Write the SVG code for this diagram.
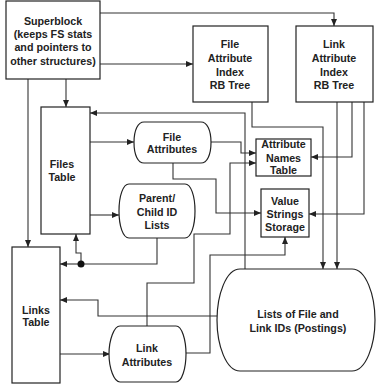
<svg xmlns="http://www.w3.org/2000/svg" width="376" height="385" viewBox="0 0 376 385">
<defs>
<marker id="ah" markerUnits="userSpaceOnUse" markerWidth="8" markerHeight="7" refX="7" refY="3" orient="auto">
<path d="M0,0 L7,3 L0,6 z" fill="#222"/>
</marker>
<style>
.n{fill:#fff;stroke:#222;stroke-width:1.2}
.c{fill:none;stroke:#333;stroke-width:1.1;marker-end:url(#ah)}
.c0{fill:none;stroke:#333;stroke-width:1.1}
text{font-family:"Liberation Sans",Arial,sans-serif;font-weight:bold;font-size:10.7px;fill:#222;text-anchor:middle}
</style>
</defs>
<rect width="376" height="385" fill="#fff"/>
<g id="connectors">
<path class="c" d="M100,13 H334 V26"/>
<path class="c" d="M100,64 H193"/>
<path class="c" d="M66,79 V107"/>
<path class="c" d="M28,79 V247"/>
<path class="c" d="M245,269 V113 H90"/>
<path class="c" d="M90,142 H134"/>
<path class="c" d="M90,215 H119"/>
<path class="c" d="M211,142 H241 V153 H256"/>
<path class="c" d="M147,326 V283 H194 V234 H230 V163 H256"/>
<path class="c" d="M173,163 V179 H216 V213 H261"/>
<path class="c0" d="M157,238 V264 H81"/>
<path class="c" d="M81,264 H60"/>
<path class="c" d="M81,264 V253 H76 V234"/>
<circle cx="81" cy="264" r="3.5" fill="#111"/>
<path class="c" d="M352,102 V157 H311"/>
<path class="c" d="M364,102 V214 H309"/>
<path class="c" d="M337,102 V269"/>
<path class="c" d="M252,102 V127 H323 V269"/>
<path class="c" d="M186,353 H210 V255 H285 V237"/>
<path class="c" d="M217,316 H98 V300 H60"/>
<path class="c" d="M60,354 H110"/>
</g>
<g id="superblock">
<rect class="n" x="6" y="1" width="94" height="78"/>
<text x="53" y="25">Superblock</text>
<text x="53" y="38">(keeps FS stats</text>
<text x="53" y="51">and pointers to</text>
<text x="53" y="65">other structures)</text>
</g>
<g id="file-attr-index">
<rect class="n" x="193" y="26" width="75" height="76"/>
<text x="230" y="48">File</text>
<text x="230" y="62">Attribute</text>
<text x="230" y="76">Index</text>
<text x="230" y="89">RB Tree</text>
</g>
<g id="link-attr-index">
<rect class="n" x="296" y="26" width="77" height="76"/>
<text x="334" y="48">Link</text>
<text x="334" y="62">Attribute</text>
<text x="334" y="76">Index</text>
<text x="334" y="89">RB Tree</text>
</g>
<g id="files-table">
<rect class="n" x="41" y="107" width="49" height="127"/>
<text x="62" y="168">Files</text>
<text x="62" y="181">Table</text>
</g>
<g id="file-attributes">
<path class="n" d="M144,122 H201 C207,122 211,130 211,142.5 C211,155 207,163 201,163 H144 C138,163 134,155 134,142.5 C134,130 138,122 144,122 Z"/>
<text x="172" y="141">File</text>
<text x="172" y="153">Attributes</text>
</g>
<g id="parent-child">
<path class="n" d="M129,184 H185 C191,184 195,196 195,211 C195,226 191,238 185,238 H129 C123,238 119,226 119,211 C119,196 123,184 129,184 Z"/>
<text x="157" y="202">Parent/</text>
<text x="157" y="216">Child ID</text>
<text x="157" y="229">Lists</text>
</g>
<g id="attr-names">
<rect class="n" x="256" y="139" width="55" height="37"/>
<text x="283.5" y="148">Attribute</text>
<text x="283.5" y="162">Names</text>
<text x="283.5" y="174">Table</text>
</g>
<g id="value-strings">
<rect class="n" x="261" y="189" width="48" height="48"/>
<text x="285" y="205">Value</text>
<text x="285" y="218">Strings</text>
<text x="285" y="231">Storage</text>
</g>
<g id="links-table">
<rect class="n" x="12" y="247" width="48" height="136"/>
<text x="36" y="314">Links</text>
<text x="36" y="326">Table</text>
</g>
<g id="link-attributes">
<path class="n" d="M120,326 H176 C182,326 186,340 186,354 C186,368 182,382 176,382 H120 C114,382 109,368 109,354 C109,340 114,326 120,326 Z"/>
<text x="147" y="352">Link</text>
<text x="147" y="366">Attributes</text>
</g>
<g id="postings">
<path class="n" d="M240,269 H352 C366,269 375,295 375,320 C375,345 366,371 352,371 H240 C226,371 217,345 217,320 C217,295 226,269 240,269 Z"/>
<text x="298" y="318">Lists of File and</text>
<text x="298" y="332">Link IDs (Postings)</text>
</g>
</svg>
